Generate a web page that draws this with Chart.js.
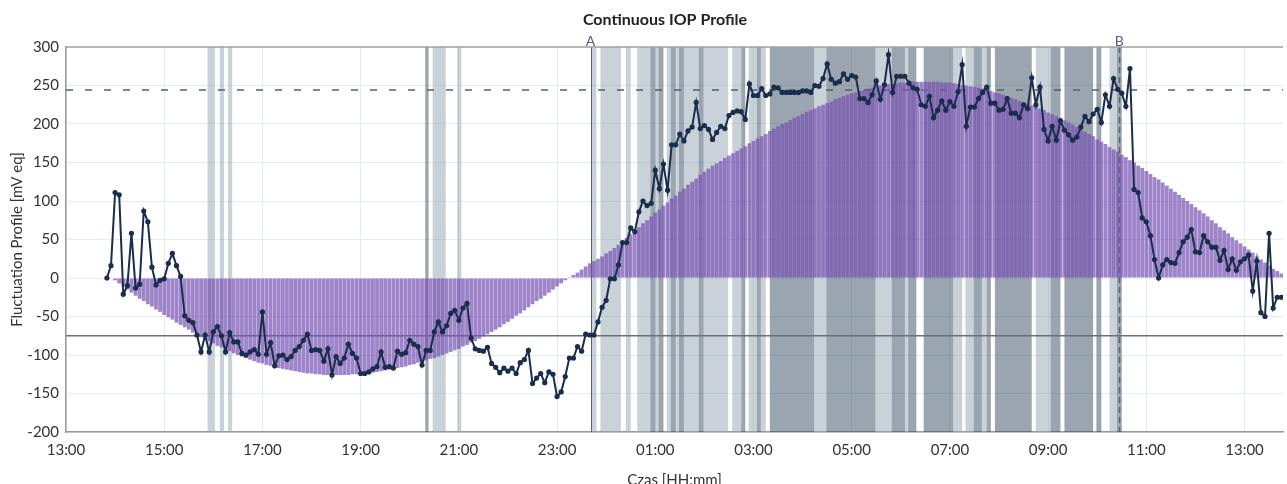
<!DOCTYPE html>
<html>
<head>
<meta charset="utf-8">
<title>Continuous IOP Profile</title>
<script src="https://cdn.jsdelivr.net/npm/chart.js@4.4.1/dist/chart.umd.min.js"></script>
<style>
  html, body { margin: 0; padding: 0; background: #fff; overflow: hidden; }
  #wrap { position: relative; width: 1287px; height: 494px; }
</style>
</head>
<body>
<div id="wrap"><canvas id="chart"></canvas></div>
<script>
// Dane

const tickLabels = ['13:00', '15:00', '17:00', '19:00', '21:00', '23:00', '01:00',
  '03:00', '05:00', '07:00', '09:00', '11:00', '13:00'];

const seriesStart = '13:50'; // pierwszy pomiar
const stepMin = 5;           // co 5 minut

// profil dobowy (slupki), jeden wiersz = 1 godzina
const profileBars = [
  0, 0, -3, -7, -11, -15, -19, -23, -27, -30, -34, -37,
  -41, -44, -48, -51, -54, -58, -61, -64, -67, -71, -74, -77,
  -79, -82, -85, -88, -90, -93, -95, -98, -100, -102, -104, -106,
  -108, -110, -111, -113, -114, -116, -117, -118, -119, -120, -121, -122,
  -123, -124, -124, -125, -125, -126, -126, -126, -126, -126, -126, -126,
  -125, -125, -125, -124, -123, -123, -122, -121, -120, -119, -118, -117,
  -116, -115, -113, -112, -110, -109, -107, -105, -104, -102, -100, -98,
  -96, -94, -92, -89, -87, -84, -82, -79, -76, -73, -70, -67,
  -64, -60, -57, -53, -49, -46, -42, -38, -34, -30, -27, -23,
  -19, -15, -11, -7, -3, 1, 4, 7, 11, 15, 19, 22,
  25, 28, 32, 35, 39, 43, 48, 52, 57, 61, 66, 71,
  75, 80, 85, 89, 94, 98, 103, 107, 112, 116, 121, 125,
  129, 134, 138, 142, 146, 149, 152, 156, 159, 162, 165, 168,
  171, 175, 178, 181, 184, 187, 191, 194, 197, 200, 202, 205,
  208, 210, 213, 216, 218, 220, 223, 225, 227, 229, 232, 234,
  236, 238, 240, 241, 243, 244, 246, 247, 249, 250, 251, 252,
  252, 253, 254, 254, 255, 255, 255, 255, 255, 255, 255, 255,
  254, 254, 254, 253, 252, 251, 250, 249, 248, 247, 246, 245,
  243, 241, 240, 238, 236, 234, 232, 230, 228, 226, 224, 222,
  220, 218, 215, 213, 210, 208, 205, 202, 199, 196, 193, 190,
  187, 184, 180, 177, 174, 170, 167, 164, 160, 157, 153, 150,
  146, 143, 139, 135, 131, 128, 124, 120, 116, 112, 108, 104,
  100, 96, 92, 88, 84, 80, 75, 71, 66, 62, 58, 53,
  49, 45, 41, 37, 33, 28, 24, 20, 16, 12, 9, 6
];

// pomiary IOP (linia)
const iopValues = [
  0, 16, 111, 108, -21, -10, 58, -13, -8, 87, 73, 14,
  -9, -3, -1, 19, 32, 16, 2, -49, -55, -58, -74, -96,
  -74, -96, -70, -63, -75, -96, -71, -83, -83, -98, -100, -96,
  -93, -99, -44, -99, -84, -114, -101, -100, -106, -102, -94, -89,
  -81, -73, -94, -93, -94, -108, -92, -126, -102, -111, -104, -86,
  -98, -104, -124, -124, -122, -118, -115, -96, -116, -115, -117, -95,
  -99, -97, -81, -86, -89, -113, -94, -94, -70, -57, -70, -62,
  -46, -42, -55, -39, -33, -78, -92, -94, -95, -90, -111, -116,
  -123, -117, -121, -117, -124, -110, -106, -94, -137, -130, -124, -136,
  -122, -125, -154, -148, -128, -104, -104, -89, -95, -73, -74, -74,
  -57, -38, -29, -1, -1, 17, 46, 46, 65, 60, 86, 100,
  94, 97, 140, 116, 148, 114, 173, 173, 187, 178, 191, 196,
  228, 194, 198, 193, 180, 189, 197, 194, 211, 215, 217, 216,
  206, 252, 237, 237, 246, 237, 239, 248, 247, 241, 241, 241,
  241, 241, 243, 243, 241, 250, 249, 259, 278, 258, 253, 255,
  265, 258, 263, 261, 233, 233, 228, 238, 256, 232, 251, 290,
  241, 262, 262, 262, 253, 247, 245, 225, 223, 236, 208, 218,
  230, 218, 229, 223, 242, 277, 197, 222, 222, 233, 241, 248,
  227, 227, 218, 219, 233, 214, 214, 208, 225, 220, 260, 225,
  248, 193, 178, 197, 179, 204, 192, 186, 179, 183, 196, 210,
  203, 213, 219, 202, 238, 223, 259, 245, 240, 223, 272, 115,
  111, 78, 73, 55, 24, 0, 17, 24, 20, 19, 33, 47,
  53, 63, 34, 33, 55, 47, 40, 40, 23, 36, 11, 25,
  10, 21, 25, 30, -17, 22, -45, -50, 58, -39, -25, -25
];

// okresy (szare pasy)
const lightBands = [
  ['15:53', '16:02'], ['16:08', '16:13'], ['16:18', '16:23'],
  ['20:28', '20:44'], ['20:58', '21:03'],
  ['23:42', '23:48'], ['23:53', '00:18'], ['00:24', '00:30'], ['00:38', '00:54'],
  ['01:00', '01:04'], ['01:14', '01:19'], ['01:25', '01:29'], ['01:35', '01:53'],
  ['01:59', '02:29'], ['02:34', '02:45'], ['02:54', '03:04'], ['03:09', '03:15'],
  ['04:14', '04:29'], ['05:29', '05:49'], ['06:05', '06:09'], ['07:04', '07:15'],
  ['07:19', '07:29'], ['07:39', '07:45'], ['08:45', '09:03'], ['10:15', '10:24']
];
const darkBands = [
  ['20:19', '20:23'],
  ['00:54', '01:00'], ['01:04', '01:10'], ['01:19', '01:25'], ['01:29', '01:35'],
  ['01:53', '01:59'], ['02:45', '02:50'], ['03:04', '03:09'], ['03:20', '04:14'],
  ['04:29', '05:29'], ['05:49', '06:05'], ['06:09', '06:19'], ['06:28', '07:04'],
  ['07:29', '07:39'], ['07:45', '07:50'], ['07:55', '08:40'], ['09:03', '09:15'],
  ['09:20', '09:55'], ['09:59', '10:05'], ['10:24', '10:30']
];

const markers = [
  { label: 'A', time: '23:41', dash: [] },
  { label: 'B', time: '10:27', dash: [6, 4] }
];
const upperLimit = 244;
const lowerLimit = -75;

// Funkcje

// minuty od 13:00 (czasy przed 13:00 to nastepny dzien)
function toMin(hhmm) {
  const [h, m] = hhmm.split(':').map(Number);
  let t = h * 60 + m - 13 * 60;
  if (t < 0) t += 1440;
  return t;
}

function toPoints(values) {
  const t0 = toMin(seriesStart);
  return values.map((v, i) => ({ x: t0 + i * stepMin, y: v }));
}

const FONT = 'Lato';

const overlayPlugin = {
  id: 'overlay',
  beforeDatasetsDraw(chart) {
    const { ctx, chartArea: a, scales: { x, y } } = chart;
    ctx.save();
    ctx.beginPath();
    ctx.rect(a.left, a.top, a.right - a.left, a.bottom - a.top);
    ctx.clip();

    const drawBands = (list, color) => {
      ctx.fillStyle = color;
      list.forEach(([s, e]) => {
        const x0 = x.getPixelForValue(toMin(s));
        const x1 = x.getPixelForValue(toMin(e));
        ctx.fillRect(x0, a.top, x1 - x0, a.bottom - a.top);
      });
    };
    drawBands(lightBands, 'rgba(150,165,180,0.5)');
    drawBands(darkBands, 'rgba(55,75,95,0.5)');

    // linie progowe
    ctx.lineWidth = 1.5;
    ctx.strokeStyle = '#5a5f66';
    ctx.setLineDash([7, 12]);
    let py = y.getPixelForValue(upperLimit);
    ctx.beginPath(); ctx.moveTo(a.left, py); ctx.lineTo(a.right, py); ctx.stroke();
    ctx.setLineDash([]);
    ctx.strokeStyle = '#6c7076';
    py = y.getPixelForValue(lowerLimit);
    ctx.beginPath(); ctx.moveTo(a.left, py); ctx.lineTo(a.right, py); ctx.stroke();

    // znaczniki A / B
    markers.forEach(mk => {
      const px = Math.round(x.getPixelForValue(toMin(mk.time))) + 0.5;
      ctx.strokeStyle = '#5b626b';
      ctx.lineWidth = mk.dash.length ? 1.5 : 1;
      ctx.setLineDash(mk.dash);
      ctx.beginPath(); ctx.moveTo(px, a.top); ctx.lineTo(px, a.bottom); ctx.stroke();
    });
    ctx.restore();
  },
  afterDraw(chart) {
    const { ctx, chartArea: a, scales: { x } } = chart;
    ctx.save();
    // gorna krawedz
    ctx.strokeStyle = '#a3a3a3';
    ctx.lineWidth = 1.5;
    ctx.beginPath(); ctx.moveTo(a.left, a.top); ctx.lineTo(a.right, a.top); ctx.stroke();

    ctx.fillStyle = '#51627c';
    ctx.font = '14px ' + FONT;
    ctx.textAlign = 'center';
    ctx.textBaseline = 'bottom';
    markers.forEach(mk => {
      ctx.fillText(mk.label, x.getPixelForValue(toMin(mk.time)), a.top + 1);
    });

    ctx.fillStyle = '#222';
    ctx.font = 'bold 16px ' + FONT;
    ctx.textBaseline = 'middle';
    ctx.fillText('Continuous IOP Profile', 665, 20);
    ctx.restore();
  }
};

document.addEventListener('DOMContentLoaded', function() {
  const ctx = document.getElementById('chart').getContext('2d');

  new Chart(ctx, {
    data: {
      datasets: [
        {
          type: 'line',
          label: 'IOP',
          data: toPoints(iopValues),
          borderColor: '#1a2d4c',
          backgroundColor: '#1a2d4c',
          borderWidth: 2,
          pointRadius: 2.6,
          pointBorderWidth: 0,
          pointBackgroundColor: '#1a2d4c',
          tension: 0,
          order: 0
        },
        {
          type: 'bar',
          label: 'Profile',
          data: toPoints(profileBars),
          backgroundColor: 'rgba(120,85,180,0.72)',
          borderWidth: 0,
          barPercentage: 0.93,
          categoryPercentage: 1,
          order: 1
        }
      ]
    },
    options: {
      responsive: true,
      maintainAspectRatio: false,
      devicePixelRatio: 1,
      animation: false,
      layout: { padding: { top: 47, left: 0, right: -4, bottom: 0 } },
      plugins: {
        legend: { display: false },
        tooltip: { enabled: false },
        title: { display: false }
      },
      scales: {
        x: {
          type: 'linear',
          min: 0,
          max: 1487,
          offset: false,
          afterFit: s => { s.height = 62; },
          grid: { color: '#e2ecf6', drawTicks: false, offset: false },
          border: { color: '#9a9a9a', width: 1.5 },
          ticks: {
            stepSize: 120,
            includeBounds: false,
            autoSkip: false,
            maxRotation: 0,
            padding: 9,
            color: '#333',
            font: { family: FONT, size: 15 },
            callback: v => (v % 120 === 0 ? tickLabels[v / 120] : null)
          },
          title: {
            display: true,
            text: 'Czas [HH:mm]',
            color: '#333',
            font: { family: FONT, size: 15 },
            padding: { top: 0, bottom: 5 }
          }
        },
        y: {
          min: -200,
          max: 300,
          afterFit: s => { s.width = 66; },
          grid: { color: '#e2ecf6', drawTicks: false },
          border: { color: '#9a9a9a', width: 1.5 },
          ticks: {
            stepSize: 50,
            padding: 7,
            color: '#333',
            font: { family: FONT, size: 15 }
          },
          title: {
            display: true,
            text: 'Fluctuation Profile [mV eq]',
            color: '#333',
            font: { family: FONT, size: 15 },
            padding: { top: 8, bottom: 0 }
          }
        }
      }
    },
    plugins: [overlayPlugin]
  });
});
</script>
</body>
</html>
